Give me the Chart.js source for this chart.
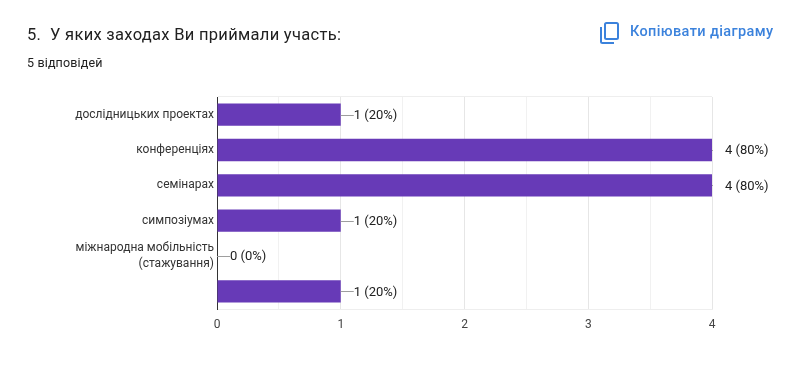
<!DOCTYPE html>
<html lang="uk">
<head>
    <meta charset="UTF-8">
    <title>У яких заходах Ви приймали участь</title>
    <script src="https://cdn.jsdelivr.net/npm/chart.js"></script>
    <style>
        html, body { margin: 0; background: #fff; }
        #page { position: relative; width: 800px; height: 371px; overflow: hidden; font-family: Roboto, "Liberation Sans", sans-serif; }
        #chartContainer { position: absolute; left: 0; top: 0; width: 800px; height: 371px; }
        #title { position: absolute; left: 27px; top: 25px; font-size: 16.5px; line-height: 20px; color: #212121; letter-spacing: 0.3px; white-space: nowrap; }
        #answers { position: absolute; left: 27px; top: 56px; font-size: 12.5px; line-height: 14px; color: #212121; letter-spacing: 0.15px; }
        #copy { position: absolute; left: 630px; top: 23px; font-size: 14.5px; line-height: 18px; font-weight: 500; color: #3b82dc; letter-spacing: 0.37px; white-space: nowrap; }
        #copyIcon { position: absolute; left: 599px; top: 21px; }
    </style>
</head>
<body>
<div id="page">
    <div id="chartContainer"><canvas id="voteChart"></canvas></div>
    <div id="title">5.&nbsp; У яких заходах Ви приймали участь:</div>
    <div id="answers">5 відповідей</div>
    <svg id="copyIcon" width="22" height="24" viewBox="0 0 22 24" fill="none" stroke="#3b82dc" stroke-width="2">
        <rect x="6" y="2" width="13" height="16" rx="1.5"/>
        <path d="M2 6v14.5a1.5 1.5 0 0 0 1.5 1.5H15"/>
    </svg>
    <div id="copy">Копіювати діаграму</div>
</div>
<script>
    const categories = ['дослідницьких проектах', 'конференціях', 'семінарах', 'симпозіумах', ['міжнародна мобільність', '(стажування)'], ''];
    const counts = [1, 4, 4, 1, 0, 1];
    const percents = [20, 80, 80, 20, 0, 20];
    const xTicks = [0, 1, 2, 3, 4];

    // подписи справа от столбцов с короткой линией-выноской
    const valueLabels = {
        id: 'valueLabels',
        afterDatasetsDraw(chart) {
            const ctx = chart.ctx;
            const x = chart.scales.x;
            const y = chart.scales.y;
            ctx.save();
            ctx.font = '13px Roboto, "Liberation Sans", sans-serif';
            ctx.textBaseline = 'middle';
            counts.forEach((v, i) => {
                const start = x.getPixelForValue(v);
                const yPos = y.getPixelForValue(i);
                ctx.strokeStyle = '#9e9e9e';
                ctx.beginPath();
                ctx.moveTo(start, Math.round(yPos) + 0.5);
                ctx.lineTo(Math.min(start + 13, x.right + 1), Math.round(yPos) + 0.5);
                ctx.stroke();
                ctx.fillStyle = '#212121';
                ctx.fillText(v + ' (' + percents[i] + '%)', start + 13, yPos + 1);
            });
            ctx.restore();
        }
    };

    new Chart(document.getElementById('voteChart').getContext('2d'), {
        type: 'bar',
        data: {
            labels: categories,
            datasets: [{
                data: counts,
                backgroundColor: '#673ab7',
                categoryPercentage: 0.63,
                barPercentage: 1
            }]
        },
        options: {
            indexAxis: 'y',
            responsive: true,
            maintainAspectRatio: false,
            animation: false,
            layout: { padding: { top: 97, right: 88, bottom: 0, left: 0 } },
            plugins: { legend: { display: false }, tooltip: { enabled: false } },
            scales: {
                x: {
                    min: 0,
                    max: 4,
                    ticks: {
                        stepSize: 0.5,
                        autoSkip: false,
                        maxRotation: 0,
                        padding: 9,
                        color: '#444',
                        font: { size: 12, family: 'Roboto, "Liberation Sans", sans-serif' },
                        callback: v => xTicks.includes(v) ? String(v) : ''
                    },
                    grid: {
                        drawTicks: false,
                        color: c => xTicks.includes(c.tick.value) ? '#e6e6e6' : '#f1f1f1'
                    },
                    border: { display: true, color: '#eeeeee', width: 1 },
                    afterFit(scale) { scale.height = 62; }
                },
                y: {
                    ticks: {
                        autoSkip: false,
                        padding: 3,
                        color: '#333',
                        font: { size: 12, family: 'Roboto, "Liberation Sans", sans-serif', lineHeight: 1.4 }
                    },
                    grid: {
                        drawTicks: false,
                        color: c => c.index === 0 ? '#eeeeee' : 'transparent'
                    },
                    border: { color: '#333', width: 1 },
                    afterFit(scale) { scale.width = 217; }
                }
            }
        },
        plugins: [valueLabels]
    });
</script>
</body>
</html>
